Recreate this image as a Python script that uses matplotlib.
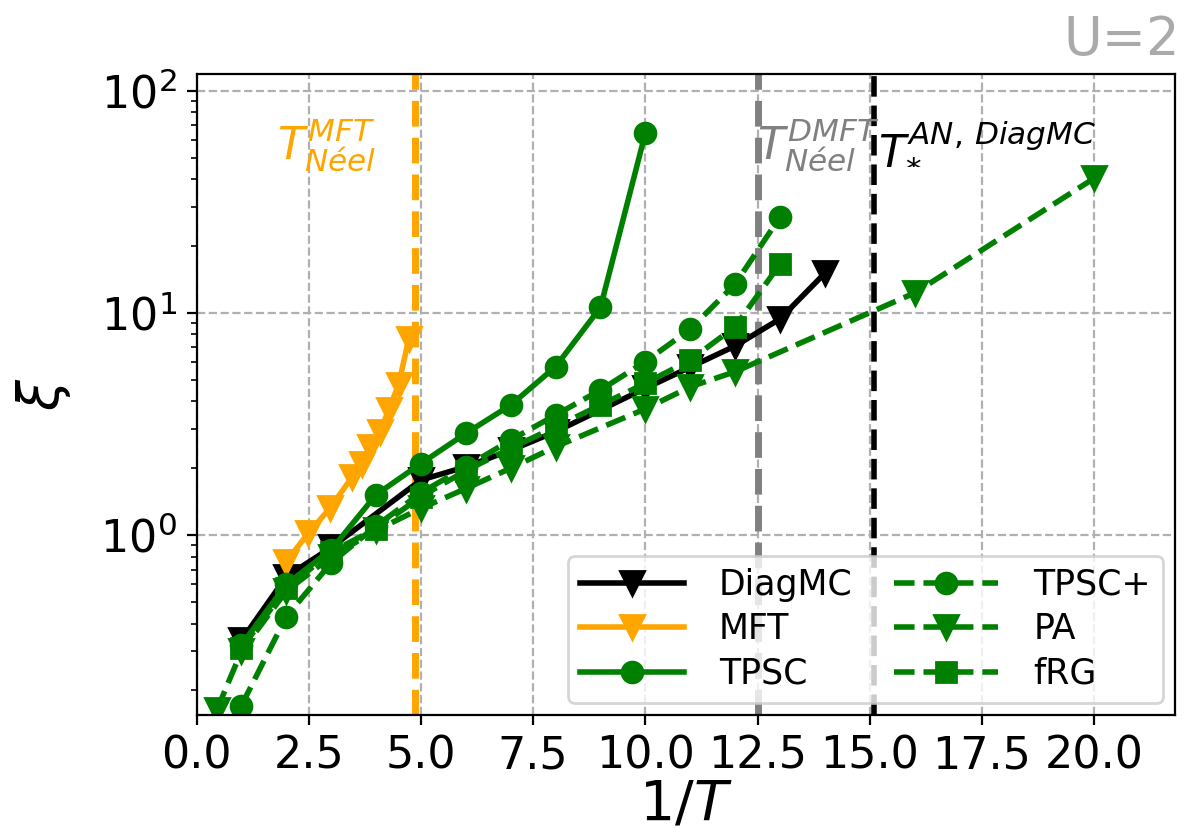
import numpy as np
import matplotlib
matplotlib.use("Agg")
import matplotlib.pyplot as plt

# inverse temperature 1/T and correlation length xi
x_diagmc = [1, 2, 3, 5, 6, 7, 8, 10, 11, 12, 13, 14]
xi_diagmc = [0.336, 0.65, 0.88, 1.77, 2.03, 2.41, 2.92, 4.58, 5.7, 7.1, 9.4, 15.1]

x_mft = [2.0, 2.49, 2.97, 3.47, 3.68, 3.86, 4.09, 4.28, 4.5, 4.73]
xi_mft = [0.76, 1.02, 1.32, 1.83, 2.1, 2.5, 2.92, 3.66, 4.74, 7.67]

x_tpsc = [1, 2, 3, 4, 5, 6, 7, 8, 9, 10]
xi_tpsc = [0.32, 0.6, 0.86, 1.52, 2.1, 2.87, 3.85, 5.73, 10.6, 64.5]

x_tpscp = [1, 2, 3, 4, 5, 6, 7, 8, 9, 10, 11, 12, 13]
xi_tpscp = [0.171, 0.43, 0.75, 1.1, 1.55, 2.03, 2.68, 3.47, 4.5, 6.04, 8.45, 13.5, 27.0]

x_pa = [0.45, 1, 2, 3, 4, 5, 6, 7, 8, 10, 11, 12, 16, 20]
xi_pa = [0.163, 0.3, 0.56, 0.8, 1.05, 1.32, 1.62, 2.0, 2.5, 3.7, 4.65, 5.44, 12.3, 40.4]

x_frg = [1, 2, 3, 4, 5, 6, 7, 8, 9, 10, 11, 12, 13]
xi_frg = [0.31, 0.575, 0.84, 1.07, 1.49, 1.95, 2.46, 3.07, 3.85, 4.82, 6.14, 8.67, 16.6]

# transition temperatures (as 1/T)
inv_t_mft = 4.87
inv_t_dmft = 12.5
inv_t_star = 15.1

x_ticks = [0.0, 2.5, 5.0, 7.5, 10.0, 12.5, 15.0, 17.5, 20.0]

fig = plt.figure(figsize=(5.985, 4.17), dpi=200)
ax = fig.add_axes([0.1642, 0.1427, 0.8174, 0.7686])

ax.axvline(inv_t_mft, color="orange", ls="--", lw=2.5)
ax.axvline(inv_t_dmft, color="gray", ls="--", lw=2.5)
ax.axvline(inv_t_star, color="black", ls="--", lw=2.0)

ax.plot(x_diagmc, xi_diagmc, "-v", color="black", lw=2, ms=8.5, label="DiagMC")
ax.plot(x_mft, xi_mft, "-v", color="orange", lw=2, ms=8.5, label="MFT")
ax.plot(x_tpsc, xi_tpsc, "-o", color="green", lw=2, ms=7.5, label="TPSC")
ax.plot(x_tpscp, xi_tpscp, "--o", color="green", lw=2, ms=7.5, label="TPSC+")
ax.plot(x_pa, xi_pa, "--v", color="green", lw=2, ms=8.5, label="PA")
ax.plot(x_frg, xi_frg, "--s", color="green", lw=2, ms=7, label="fRG")

ax.set_yscale("log")
ax.set_xlim(0, 21.8)
ax.set_ylim(0.155, 119)
ax.set_xticks(x_ticks)
ax.set_xticklabels([f"{t:.1f}" for t in x_ticks])
ax.grid(True, which="major", ls="--", color="#b0b0b0", lw=0.8)
ax.tick_params(labelsize=16)
ax.set_xlabel("$1/T$", fontsize=20, labelpad=0)
ax.set_ylabel(r"$\xi$", fontsize=20, labelpad=10)

ax.text(1.8, 49, r"$T^{MFT}_{Néel}$", color="orange", fontsize=16, va="baseline")
ax.text(12.48, 49, r"$T^{DMFT}_{Néel}$", color="gray", fontsize=16, va="baseline")
ax.text(15.18, 49, r"$T^{AN,\,DiagMC}_{*}$", color="black", fontsize=16, va="baseline")

ax.legend(loc="lower right", ncol=2, fontsize=12.5, handlelength=3,
          handletextpad=1.0, labelspacing=0.3, columnspacing=1.2,
          borderpad=0.35, borderaxespad=0.35)

fig.text(0.986, 0.934, "U=2", color="#aaaaaa", fontsize=19, ha="right",
         va="baseline", family=["Liberation Sans Narrow", "DejaVu Sans"])

fig.savefig("out.png", dpi=200)
